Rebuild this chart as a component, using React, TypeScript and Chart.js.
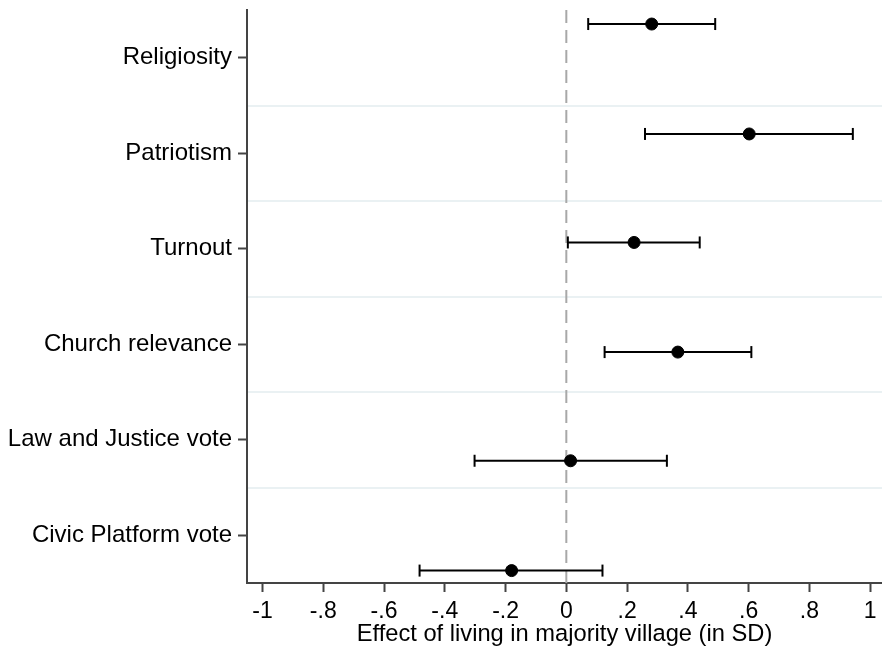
import React, { useEffect, useRef } from "react";
import { Chart, registerables } from "chart.js";

Chart.register(...registerables);

const categories = [
  "Religiosity",
  "Patriotism",
  "Turnout",
  "Church relevance",
  "Law and Justice vote",
  "Civic Platform vote",
];
const estimates = [0.281, 0.602, 0.223, 0.367, 0.014, -0.18];
const ciLow = [0.072, 0.259, 0.005, 0.126, -0.302, -0.483];
const ciHigh = [0.49, 0.943, 0.439, 0.609, 0.331, 0.119];
// vertical position of each estimate on the category scale
const rowPos = [-0.353, 0.798, 1.934, 3.082, 4.22, 5.37];
const categoryTicks = [0, 1, 2, 3, 4, 5];
const separatorTicks = [0.5, 1.5, 2.5, 3.5, 4.5];
const xTickValues = [-1, -0.8, -0.6, -0.4, -0.2, 0, 0.2, 0.4, 0.6, 0.8, 1];
const xTickLabels = ["-1", "-.8", "-.6", "-.4", "-.2", "0", ".2", ".4", ".6", ".8", "1"];
const xTitle = "Effect of living in majority village (in SD)";

const FONT = "'Liberation Sans', Helvetica, Arial, sans-serif";
const AXIS = "#444444";

export default function App() {
  const ref = useRef<HTMLCanvasElement | null>(null);

  useEffect(() => {
    if (!ref.current) return;
    const ciSets = categories.map((c, i) => ({
      type: "scatter" as const,
      label: c + " CI",
      data: [
        { x: ciLow[i], y: rowPos[i] },
        { x: ciHigh[i], y: rowPos[i] },
      ],
      showLine: true,
      borderColor: "#000",
      borderWidth: 2,
      pointStyle: "line",
      pointRotation: 90,
      pointRadius: 6,
      pointBorderWidth: 2,
      pointBorderColor: "#000",
      order: 2,
    }));
    const chart = new Chart(ref.current, {
      type: "scatter",
      data: {
        datasets: [
          {
            type: "scatter",
            label: "zero",
            data: [
              { x: 0, y: -0.5 },
              { x: 0, y: 5.5 },
            ],
            showLine: true,
            borderColor: "#a8a8a8",
            borderWidth: 2,
            borderDash: [13, 7],
            pointRadius: 0,
            order: 3,
          } as any,
          ...(ciSets as any[]),
          {
            type: "scatter",
            label: "Estimate",
            data: estimates.map((v, i) => ({ x: v, y: rowPos[i] })),
            pointRadius: 6,
            pointBorderWidth: 1,
            pointBackgroundColor: "#000",
            pointBorderColor: "#000",
            order: 1,
          } as any,
        ],
      },
      options: {
        animation: false,
        responsive: false,
        layout: { autoPadding: false, padding: { top: 10, right: 0, left: 0, bottom: 0 } },
        plugins: {
          legend: { display: false },
          tooltip: { enabled: false },
        },
        scales: {
          x: {
            type: "linear",
            position: "bottom",
            min: -1.051,
            max: 1.039,
            afterBuildTicks: (s: any) => {
              s.ticks = xTickValues.map((v) => ({ value: v }));
            },
            afterFit: (s: any) => {
              s.height = 66;
              s.paddingLeft = 0;
              s.paddingRight = 0;
            },
            ticks: {
              callback: (v: any) => {
                const i = xTickValues.findIndex((t) => Math.abs(t - v) < 1e-9);
                return i >= 0 ? xTickLabels[i] : "";
              },
              font: { family: FONT, size: 23 },
              color: "#000",
              padding: 6,
              maxRotation: 0,
              autoSkip: false,
            },
            grid: {
              drawOnChartArea: false,
              tickLength: 9,
              tickWidth: 2,
              tickColor: AXIS,
            },
            border: { color: AXIS, width: 2 },
            title: {
              display: true,
              text: xTitle,
              font: { family: FONT, size: 23.7 },
              color: "#000",
              padding: { top: 0, bottom: 0 },
            },
          },
          yg: {
            type: "linear",
            position: "left",
            reverse: true,
            min: -0.5,
            max: 5.5,
            weight: 0,
            afterBuildTicks: (s: any) => {
              s.ticks = separatorTicks.map((v) => ({ value: v }));
            },
            afterFit: (s: any) => {
              s.width = 0;
              s.paddingTop = 0;
              s.paddingBottom = 0;
              s.paddingLeft = 0;
              s.paddingRight = 0;
            },
            ticks: { display: false },
            grid: {
              color: "#eaf1f3",
              lineWidth: 2,
              drawTicks: false,
            },
            border: { display: false },
          },
          y: {
            type: "linear",
            position: "left",
            reverse: true,
            min: -0.5,
            max: 5.5,
            weight: 1,
            afterBuildTicks: (s: any) => {
              s.ticks = categoryTicks.map((v) => ({ value: v }));
            },
            afterFit: (s: any) => {
              s.width = 247;
              s.paddingTop = 0;
              s.paddingBottom = 0;
              s.paddingLeft = 0;
              s.paddingRight = 0;
            },
            ticks: {
              callback: (v: any) => categories[Math.round(v)] ?? "",
              font: { family: FONT, size: 24 },
              color: "#000",
              padding: 6,
              autoSkip: false,
            },
            grid: {
              drawOnChartArea: false,
              tickLength: 9,
              tickWidth: 2,
              tickColor: AXIS,
            },
            border: { color: AXIS, width: 2 },
          },
        },
      } as any,
    });
    return () => chart.destroy();
  }, []);

  return (
    <div style={{ position: "absolute", left: 0, top: 0, width: 882, height: 649, background: "#fff" }}>
      <canvas ref={ref} width={882} height={649} style={{ display: "block" }} />
    </div>
  );
}
